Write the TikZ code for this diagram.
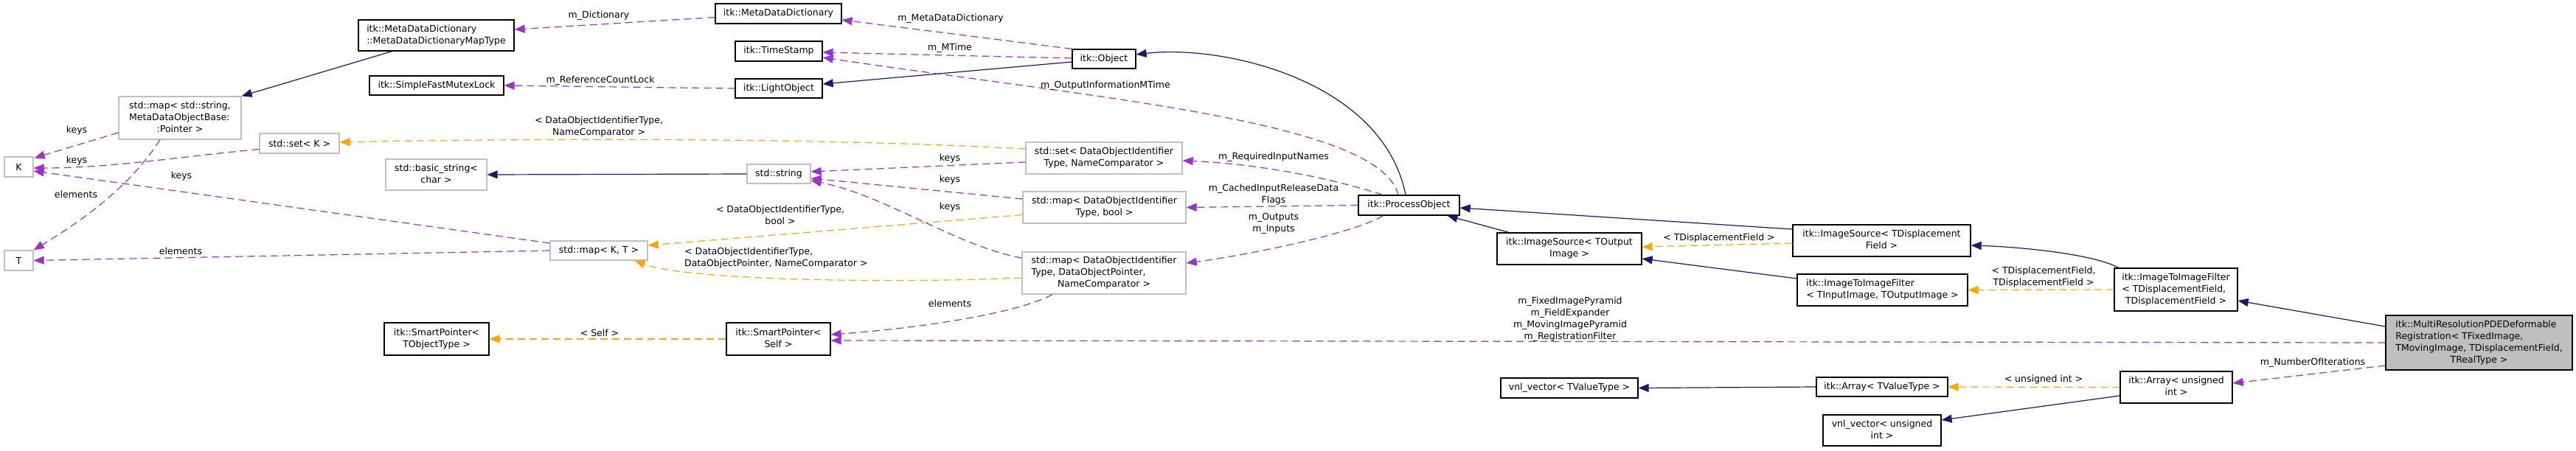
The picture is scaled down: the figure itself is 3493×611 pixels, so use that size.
\documentclass[tikz,border=0pt]{standalone}
\usepackage{fontspec}
\setmainfont{DejaVu Sans}
\usetikzlibrary{arrows.meta,calc}
\definecolor{navy}{HTML}{191970}
\definecolor{orch}{HTML}{9A32CD}
\definecolor{orng}{HTML}{FFA500}
\definecolor{gborder}{HTML}{BFBFBF}
\newcommand{\twol}[2]{\begin{tabular}{@{}l@{}}#1\\\multicolumn{1}{@{}c@{}}{#2}\end{tabular}}
\begin{document}
\begin{tikzpicture}[x=1pt,y=-1pt,
 every node/.style={font=\fontsize{12.5}{16}\selectfont},
 cls/.style={draw=black,line width=1.3pt,fill=white,inner sep=0pt,align=center},
 ext/.style={draw=gborder,line width=1.3pt,fill=white,inner sep=0pt,align=center},
 lbl/.style={inner sep=0pt,align=center},
 inh/.style={draw=navy,line width=1.2pt,-{Triangle[length=14pt,width=11pt]}},
 tmpl/.style={draw=orng,line width=1.2pt,dash pattern=on 10pt off 6pt,-{Triangle[length=14pt,width=11pt]}},
 use/.style={draw=orch,line width=1.2pt,dash pattern=on 10pt off 6pt,-{Triangle[length=14pt,width=11pt]}},
]
\useasboundingbox[fill=white] (0,0) rectangle (3493,611);

% nodes
\node[cls,minimum width=211,minimum height=42] (mddmt) at (591.5,48) {\twol{itk::MetaDataDictionary}{::MetaDataDictionaryMapType}};
\node[cls,minimum width=182,minimum height=26] (sfml) at (592,116) {itk::SimpleFastMutexLock};
\node[ext,minimum width=166,minimum height=58] (mapstr) at (244,160) {\twol{std::map< std::string,\\ MetaDataObjectBase:}{:Pointer >}};
\node[ext,minimum width=108,minimum height=27] (setk) at (406,194.5) {std::set< K >};
\node[ext,minimum width=137,minimum height=42] (bstr) at (591.5,237) {\twol{std::basic\_string<}{char >}};
\node[ext,minimum width=39,minimum height=27] (nK) at (25.5,226.5) {K};
\node[ext,minimum width=39,minimum height=27] (nT) at (25.5,353.5) {T};
\node[ext,minimum width=132,minimum height=26] (mapkt) at (812,340) {std::map< K, T >};
\node[cls,minimum width=142,minimum height=44] (spto) at (592,460) {\twol{itk::SmartPointer<}{TObjectType >}};
\node[cls,minimum width=171,minimum height=27] (mdd) at (1055.5,18.5) {itk::MetaDataDictionary};
\node[cls,minimum width=118,minimum height=27] (ts) at (1056,69.5) {itk::TimeStamp};
\node[cls,minimum width=118,minimum height=26] (lo) at (1056,120) {itk::LightObject};
\node[cls,minimum width=86,minimum height=26] (obj) at (1497,80) {itk::Object};
\node[ext,minimum width=86,minimum height=26] (str) at (1056,236) {std::string};
\node[ext,minimum width=212,minimum height=43] (setd) at (1497,214.5) {\twol{std::set< DataObjectIdentifier}{Type, NameComparator >}};
\node[ext,minimum width=221,minimum height=43] (mapb) at (1497.5,281.5) {\twol{std::map< DataObjectIdentifier}{Type, bool >}};
\node[ext,minimum width=222,minimum height=57] (mapd) at (1497,370.5) {\twol{std::map< DataObjectIdentifier\\Type, DataObjectPointer,}{NameComparator >}};
\node[cls,minimum width=141,minimum height=44] (sps) at (1055.5,460) {\twol{itk::SmartPointer<}{Self >}};
\node[cls,minimum width=137,minimum height=27] (po) at (1910.5,278.5) {itk::ProcessObject};
\node[cls,minimum width=196,minimum height=43] (isto) at (2128,337.5) {\twol{itk::ImageSource< TOutput}{Image >}};
\node[cls,minimum width=241,minimum height=43] (isd) at (2551.5,326.5) {\twol{itk::ImageSource< TDisplacement}{Field >}};
\node[cls,minimum width=231,minimum height=43] (itif) at (2552.5,393.5) {\twol{itk::ImageToImageFilter}{< TInputImage, TOutputImage >}};
\node[cls,minimum width=167,minimum height=58] (itifd) at (2950.5,393) {\twol{itk::ImageToImageFilter\\< TDisplacementField,}{TDisplacementField >}};
\node[cls,fill=gborder,minimum width=253,minimum height=74] (mr) at (3361.5,465) {\twol{itk::MultiResolutionPDEDeformable\\Registration< TFixedImage,\\ TMovingImage, TDisplacementField,}{TRealType >}};
\node[cls,minimum width=186,minimum height=27] (vvt) at (2128,526.5) {vnl\_vector< TValueType >};
\node[cls,minimum width=178,minimum height=26] (arrt) at (2552,525) {itk::Array< TValueType >};
\node[cls,minimum width=160,minimum height=42] (vvu) at (2552,584) {\twol{vnl\_vector< unsigned}{int >}};
\node[cls,minimum width=152,minimum height=43] (arru) at (2951,525.5) {\twol{itk::Array< unsigned}{int >}};

% inheritance
\draw[inh] ([xshift=-60pt]mddmt.south) -- (mapstr.north east);
\draw[inh] (str.west) -- (bstr.east);
\draw[inh] ([yshift=-4pt]obj.west) -- ([yshift=6pt]lo.east);
\draw[inh] ([xshift=-4.5pt]po.north) .. controls (1875,110) and (1660,60) .. ([yshift=6pt]obj.east);
\draw[inh] ([xshift=-82pt]isto.north) -- ([xshift=52pt]po.south);
\draw[inh] ([yshift=15.5pt]isd.west) -- ([yshift=-3.5pt]po.east);
\draw[inh] ([yshift=15.5pt]itif.west) -- ([yshift=-13.5pt]isto.east);
\draw[inh] ([xshift=-78pt]itifd.north) .. controls (2840,345) and (2740,335) .. ([yshift=-6.5pt]isd.east);
\draw[inh] ([yshift=22pt]mr.west) -- ([yshift=-15pt]itifd.east);
\draw[inh] (arrt.west) -- (vvt.east);
\draw[inh] ([yshift=-11.5pt]arru.west) -- ([yshift=14pt]vvu.east);

% template instances
\draw[tmpl] ([yshift=12.5pt]setd.west) .. controls (1100,186) and (700,188) .. ([yshift=1.5pt]setk.east);
\draw[tmpl] ([yshift=-10pt]mapb.west) -- ([yshift=7pt]mapkt.east);
\draw[tmpl] ([yshift=-6.5pt]mapd.west) .. controls (1200,385) and (930,380) .. ([xshift=-18pt]mapkt.south east);
\draw[tmpl] (sps.west) -- (spto.east);
\draw[tmpl] ([yshift=-3.5pt]isd.west) -- ([yshift=2.5pt]isto.east);
\draw[tmpl] (itifd.west) -- (itif.east);
\draw[tmpl] (arru.west) -- (arrt.east);

% usage
\draw[use] ([yshift=-20pt]mapstr.west) -- ([xshift=1pt,yshift=-2pt]nK.north east);
\draw[use] ([yshift=-8pt]setk.west) .. controls (250,212) and (150,228) .. ([yshift=-1.5pt]nK.east);
\draw[use] ([yshift=10pt]mapkt.west) -- ([yshift=-5.5pt]nK.east);
\draw[use] ([xshift=-27pt]mapstr.south) .. controls (175,255) and (110,300) .. (nT.north east);
\draw[use] (mapkt.west) -- (nT.east);
\draw[use] ([yshift=-5pt]mdd.west) -- ([yshift=8pt]mddmt.east);
\draw[use] (lo.west) -- (sfml.east);
\draw[use] (obj.north west) -- ([yshift=-8.5pt]mdd.east);
\draw[use] ([yshift=1pt]obj.west) -- ([yshift=-1.5pt]ts.east);
\draw[use] ([xshift=-14.5pt]po.north) .. controls (1870,165) and (1500,135) .. ([yshift=-8.5pt]ts.east);
\draw[use] ([xshift=-36pt]po.north) .. controls (1800,240) and (1700,222) .. ([yshift=-3.5pt]setd.east);
\draw[use] (po.west) -- (mapb.east);
\draw[use] ([xshift=-35pt]po.south) .. controls (1840,315) and (1700,345) .. ([yshift=13.5pt]mapd.east);
\draw[use] ([yshift=-5.5pt]setd.west) -- ([yshift=3pt]str.east);
\draw[use] ([yshift=11.5pt]mapb.west) -- ([yshift=-6pt]str.east);
\draw[use] ([yshift=20.5pt]mapd.west) .. controls (1300,335) and (1200,265) .. ([yshift=-9pt]str.east);
\draw[use] ([xshift=-70pt]mapd.south) .. controls (1380,425) and (1250,445) .. ([yshift=6pt]sps.east);
\draw[use] (mr.west) -- ([yshift=-2pt]sps.east);
\draw[use] ([yshift=-31pt]mr.west) -- ([yshift=5.5pt]arru.east);

% labels
\node[lbl] (l1) at (104,177) {keys};
\node[lbl] (l2) at (104,218) {keys};
\node[lbl] (l3) at (246,239) {keys};
\node[lbl] (l4) at (103,264) {elements};
\node[lbl] (l5) at (245,341) {elements};
\node[lbl] (l6) at (812,21) {m\_Dictionary};
\node[lbl] (l7) at (814,109) {m\_ReferenceCountLock};
\node[lbl] (l8) at (812,172.5) {< DataObjectIdentifierType,\\NameComparator >};
\node[lbl] (l9) at (813,452) {< Self >};
\node[lbl] (l10) at (1289,25) {m\_MetaDataDictionary};
\node[lbl] (l11) at (1288,65) {m\_MTime};
\node[lbl] (l12) at (1499,116) {m\_OutputInformationMTime};
\node[lbl] (l13) at (1288,215) {keys};
\node[lbl] (l14) at (1288,244) {keys};
\node[lbl] (l15) at (1288,281) {keys};
\node[lbl] (l16) at (1058,292) {< DataObjectIdentifierType,\\bool >};
\node[lbl,align=left,anchor=west] (l17) at (928,350.5) {< DataObjectIdentifierType,\\DataObjectPointer, NameComparator >};
\node[lbl] (l18) at (1288,412) {elements};
\node[lbl] (l19) at (1727,213) {m\_RequiredInputNames};
\node[lbl] (l20) at (1727,264) {m\_CachedInputReleaseData\\Flags};
\node[lbl] (l21) at (1727,303) {m\_Outputs\\m\_Inputs};
\node[lbl] (l22) at (2331,323) {< TDisplacementField >};
\node[lbl] (l23) at (2129,433) {m\_FixedImagePyramid\\m\_FieldExpander\\m\_MovingImagePyramid\\m\_RegistrationFilter};
\node[lbl] (l24) at (2771,376) {< TDisplacementField,\\TDisplacementField >};
\node[lbl] (l25) at (2771,515) {< unsigned int >};
\node[lbl] (l26) at (3136,492) {m\_NumberOfIterations};
\end{tikzpicture}
\end{document}
